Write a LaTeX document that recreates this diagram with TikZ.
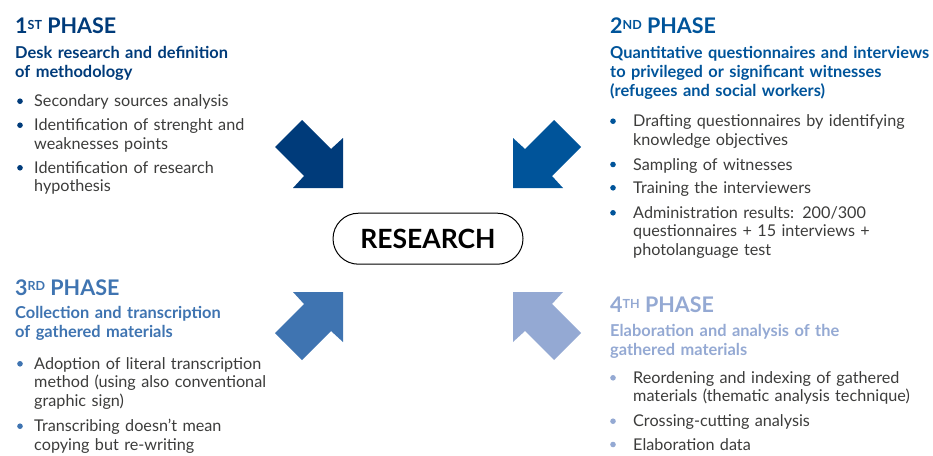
\documentclass[tikz,border=0pt]{standalone}
\usepackage{fontspec}
\setmainfont{Lato}
\definecolor{phaseone}{HTML}{003B7A}
\definecolor{phasetwo}{HTML}{00549A}
\definecolor{phasethree}{HTML}{3F74B1}
\definecolor{phasefour}{HTML}{94A9D3}
\definecolor{bodygray}{HTML}{3C3C3B}
\tikzset{
  phasetitle/.style={anchor=base west, inner sep=0pt, font=\bfseries\fontsize{21.5}{24}\selectfont},
  phasesub/.style={anchor=base west, inner sep=0pt, text width=340pt, align=left,
    font=\bfseries\fontsize{16.4}{19}\selectfont},
  phaseitem/.style={anchor=base west, inner sep=0pt, text width=310pt, align=left,
    text=bodygray, font=\fontsize{16.2}{18.5}\selectfont},
  dot/.style={fill=#1}
}
\newcommand{\phasesup}[1]{\raisebox{4.3pt}{\fontsize{12.5}{13}\selectfont #1}}
% block arrow, tip at #2, mirrored by #3 and #4
\newcommand{\inarrow}[4]{%
  \fill[#1, shift={(#2)}, xscale=#3, yscale=#4]
    (0,-50) -- (0,0) -- (-50,0) -- (-39,-12) -- (-68,-41) -- (-41,-68) -- (-12,-39) -- cycle;}
\begin{document}
\begin{tikzpicture}[x=1pt, y=-1pt]
    \useasboundingbox (0,0) rectangle (933,455);

    % Four arrows pointing to the centre
    \inarrow{phaseone}{343,188}{1}{1}
    \inarrow{phasetwo}{513,188}{-1}{1}
    \inarrow{phasethree}{343,292}{1}{-1}
    \inarrow{phasefour}{513,292}{-1}{-1}

    % Centre
    \node[draw, line width=1pt, rounded corners=25.5pt, minimum width=190pt, minimum height=51pt,
      font=\bfseries\fontsize{26.5}{28}\selectfont] (research) at (428,238.7) {RESEARCH};

    % 1st phase
    \node[phasetitle, text=phaseone] (t1) at (15,33.3) {1\phasesup{ST} PHASE};
    \node[phasesub, text=phaseone] (s1) at (15,58.3) {Desk research and definition\\of methodology};
    \foreach \y/\txt [count=\i] in {106.7/{Secondary sources analysis},
        130.7/{Identification of strenght and\\weaknesses points},
        173.3/{Identification of research\\hypothesis}} {
      \fill[phaseone] (20,\y-5.5) circle (2.8pt);
      \node[phaseitem] (a\i) at (34,\y) {\txt};
    }

    % 2nd phase
    \node[phasetitle, text=phasetwo] (t2) at (610,33.3) {2\phasesup{ND} PHASE};
    \node[phasesub, text=phasetwo] (s2) at (610,58.3) {Quantitative questionnaires and interviews\\to privileged or significant witnesses\\(refugees and social workers)};
    \foreach \y/\txt [count=\i] in {126.7/{Drafting questionnaires by identifying\\knowledge objectives},
        170/{Sampling of witnesses},
        193.3/{Training the interviewers},
        218.3/{Administration results: 200/300\\questionnaires + 15 interviews +\\photolanguage test}} {
      \fill[phasetwo] (613,\y-5.5) circle (2.8pt);
      \node[phaseitem] (b\i) at (633,\y) {\txt};
    }

    % 3rd phase
    \node[phasetitle, text=phasethree] (t3) at (15,295) {3\phasesup{RD} PHASE};
    \node[phasesub, text=phasethree] (s3) at (15,318.5) {Collection and transcription\\of gathered materials};
    \foreach \y/\txt [count=\i] in {369.3/{Adoption of literal transcription\\method (using also conventional\\graphic sign)},
        431.7/{Transcribing doesn’t mean\\copying but re-writing}} {
      \fill[phasethree] (20,\y-5.5) circle (2.8pt);
      \node[phaseitem] (c\i) at (34,\y) {\txt};
    }

    % 4th phase
    \node[phasetitle, text=phasefour] (t4) at (610,312.7) {4\phasesup{TH} PHASE};
    \node[phasesub, text=phasefour] (s4) at (610,336) {Elaboration and analysis of the\\gathered materials};
    \foreach \y/\txt [count=\i] in {383.3/{Reordening and indexing of gathered\\materials (thematic analysis technique)},
        426.7/{Crossing-cutting analysis},
        450/{Elaboration data}} {
      \fill[phasefour] (613,\y-5.5) circle (2.8pt);
      \node[phaseitem] (d\i) at (633,\y) {\txt};
    }
\end{tikzpicture}
\end{document}
